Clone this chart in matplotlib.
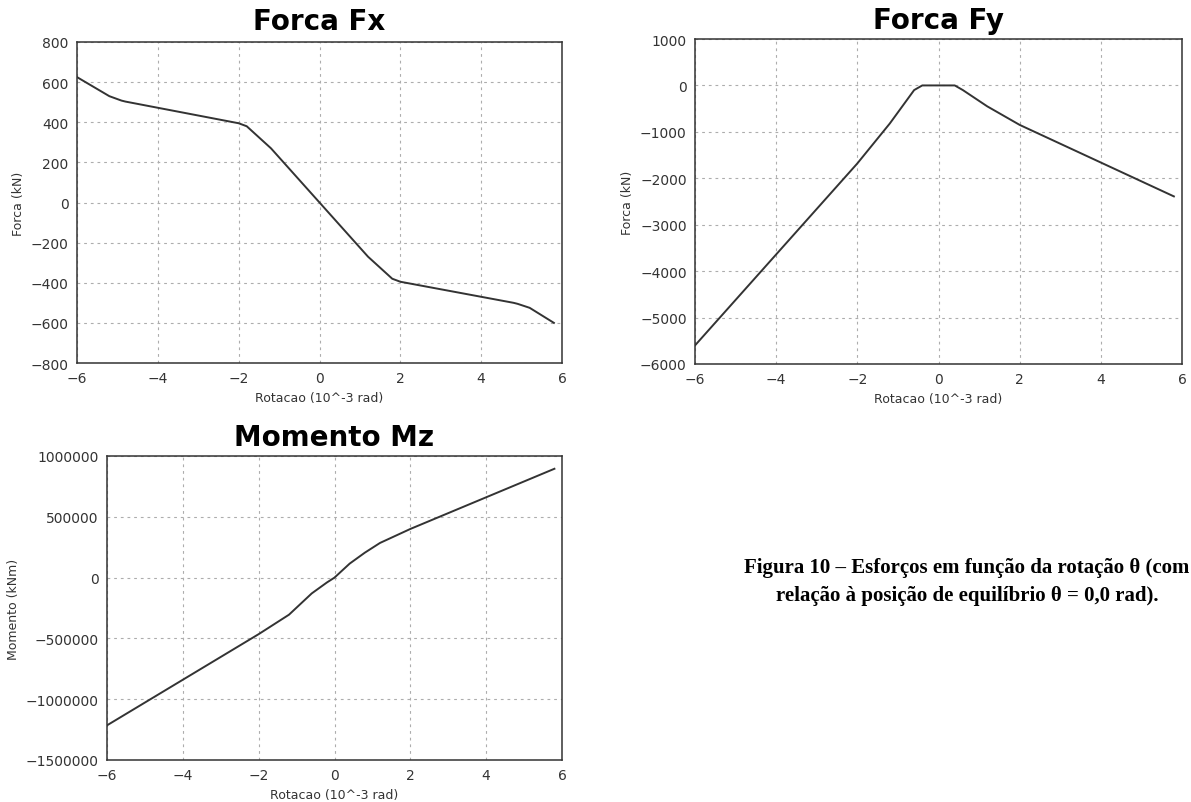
import numpy as np
import matplotlib
matplotlib.use('Agg')
import matplotlib.pyplot as plt

# --- data ---
rot_fx = [-6.0, -5.2, -4.9, -4.8, -2.0, -1.8, -1.2, 0.0, 1.2, 1.8, 2.0, 4.8, 4.9, 5.2, 5.8]
fx = [625, 530, 508, 503, 395, 380, 270, 0, -270, -380, -395, -500, -505, -525, -600]

rot_fy = [-6.0, -2.0, -1.2, -0.6, -0.4, 0.4, 0.6, 1.2, 2.0, 5.8]
fy = [-5600, -1680, -820, -100, 0, 0, -100, -450, -850, -2390]

rot_mz = [-6.0, -2.0, -1.2, -0.6, -0.2, 0.0, 0.4, 0.8, 1.2, 2.0, 5.8]
mz = [-1215000, -465000, -305000, -130000, -40000, 0, 115000, 205000, 285000, 400000, 895000]

xticks = [-6, -4, -2, 0, 2, 4, 6]

W, H = 1191, 803
fig = plt.figure(figsize=(W / 100, H / 100), dpi=100)
fig.patch.set_facecolor('white')


def px_axes(left, top, right, bottom):
    return fig.add_axes([left / W, 1 - bottom / H, (right - left) / W, (bottom - top) / H])


def style(ax, title, ylabel, ylim, yticks, pad=9):
    ax.set_xlim(-6, 6)
    ax.set_xticks(xticks)
    ax.set_ylim(*ylim)
    ax.set_yticks(yticks)
    ax.grid(True, color='0.68', linestyle=(0, (2.5, 3.5)), linewidth=0.8)
    ax.tick_params(axis='both', length=0, colors='#333333', labelsize=10, pad=6)
    for sp in ax.spines.values():
        sp.set_linewidth(1.1)
        sp.set_color('#333333')
    ax.set_title(title, fontsize=20, fontweight='bold', pad=pad)
    ax.set_xlabel('Rotacao (10^-3 rad)', fontsize=9, color='#333333', labelpad=4)
    ax.set_ylabel(ylabel, fontsize=9, color='#333333', labelpad=4)


line_kw = dict(color='#333333', linewidth=1.4)

ax1 = px_axes(77, 43, 562, 364)
ax1.plot(rot_fx, fx, **line_kw)
style(ax1, 'Forca Fx', 'Forca (kN)', (-800, 800), range(-800, 801, 200), pad=9)

ax2 = px_axes(695, 40, 1182, 365)
ax2.plot(rot_fy, fy, **line_kw)
style(ax2, 'Forca Fy', 'Forca (kN)', (-6000, 1000), range(-6000, 1001, 1000), pad=8)

ax3 = px_axes(107, 457, 562, 761)
ax3.plot(rot_mz, mz, **line_kw)
style(ax3, 'Momento Mz', 'Momento (kNm)', (-1500000, 1000000), range(-1500000, 1000001, 500000), pad=8)
ax3.ticklabel_format(axis='y', style='plain', useOffset=False)

fig.text(967 / W, 1 - 582 / H,
         'Figura 10 – Esforços em função da rotação θ (com\nrelação à posição de equilíbrio θ = 0,0 rad).',
         ha='center', va='center', multialignment='center',
         fontsize=15, fontweight='bold', family='Liberation Serif', linespacing=1.55)

fig.savefig('out.png', dpi=100, facecolor='white')
